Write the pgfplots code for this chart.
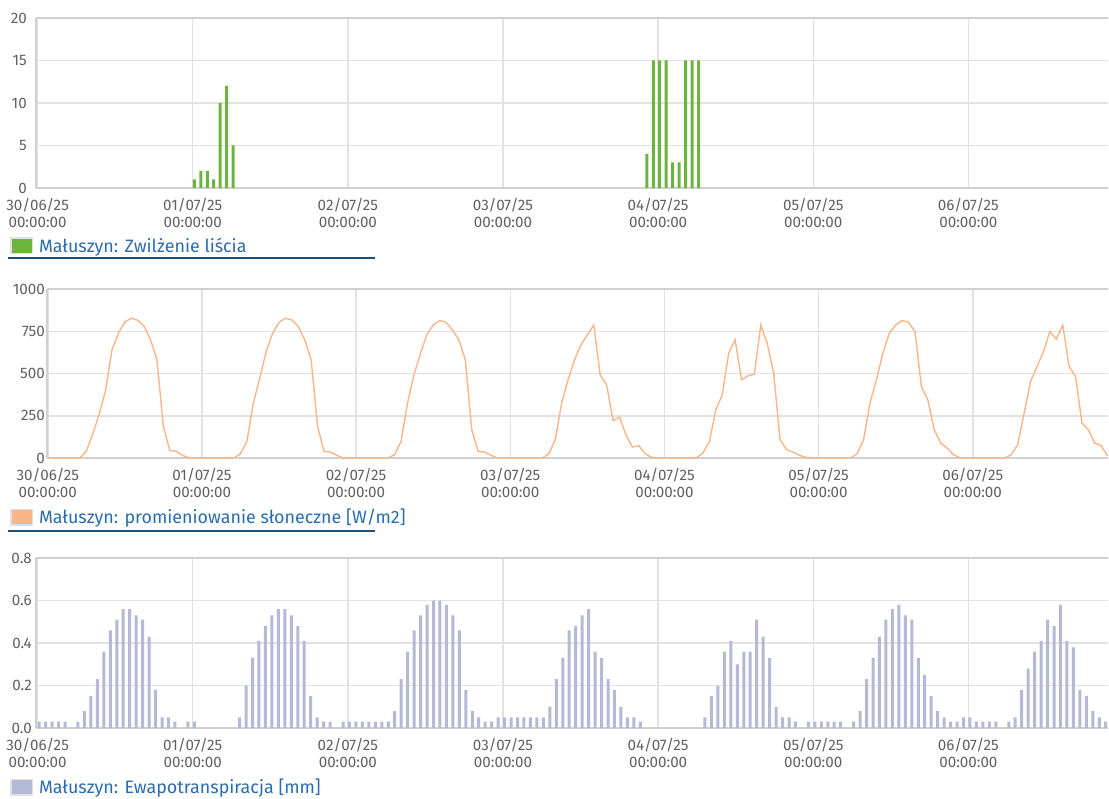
\documentclass[border=0pt]{standalone}
\usepackage{fontspec}
\setmainfont{Fira Sans}
\usepackage{pgfplots}
\usepackage{pgfplotstable}
\pgfplotsset{compat=1.18}

\definecolor{gridc}{HTML}{E2E2E2}
\definecolor{framec}{HTML}{D0D0D0}
\definecolor{tickc}{HTML}{616161}
\definecolor{legc}{HTML}{2A6CB0}
\definecolor{ulc}{HTML}{1F4E79}
\definecolor{wetc}{HTML}{6DB33F}
\definecolor{radc}{HTML}{F9B58A}
\definecolor{etc}{HTML}{B4B9D6}

% leaf wetness, only the non-zero hours
\pgfplotstableread{
h w
24 1
25 2
26 2
27 1
28 10
29 12
30 5
94 4
95 15
96 15
97 15
98 3
99 3
100 15
101 15
102 15
}\wet

% hourly solar radiation and evapotranspiration, h = hours since 30/06 00:00
\pgfplotstableread{
h rad et
0 0 0.03
1 0 0.03
2 0 0.03
3 0 0.03
4 0 0.03
5 0 0
6 40 0.03
7 140 0.08
8 260 0.15
9 400 0.23
10 640 0.36
11 740 0.46
12 805 0.51
13 827 0.56
14 815 0.56
15 780 0.53
16 700 0.51
17 580 0.43
18 185 0.18
19 45 0.05
20 40 0.05
21 15 0.03
22 0 0
23 0 0.03
24 0 0.03
25 0 0
26 0 0
27 0 0
28 0 0
29 0 0
30 25 0
31 98 0.05
32 325 0.20
33 472 0.33
34 630 0.41
35 738 0.48
36 803 0.53
37 827 0.56
38 817 0.56
39 778 0.53
40 700 0.48
41 581 0.41
42 187 0.15
43 39 0.05
44 35 0.03
45 16 0.03
46 0 0
47 0 0.03
48 0 0.03
49 0 0.03
50 0 0.03
51 0 0.03
52 0 0.03
53 0 0.03
54 20 0.03
55 98 0.08
56 325 0.23
57 492 0.36
58 616 0.46
59 728 0.53
60 787 0.58
61 813 0.60
62 803 0.60
63 758 0.58
64 699 0.53
65 581 0.46
66 167 0.18
67 39 0.08
68 35 0.05
69 16 0.03
70 0 0.03
71 0 0.05
72 0 0.05
73 0 0.05
74 0 0.05
75 0 0.05
76 0 0.05
77 0 0.05
78 25 0.05
79 108 0.10
80 325 0.23
81 463 0.33
82 581 0.46
83 669 0.48
84 728 0.53
85 787 0.56
86 492 0.36
87 433 0.33
88 222 0.23
89 242 0.18
90 138 0.10
91 65 0.05
92 73 0.05
93 25 0.03
94 4 0
95 0 0
96 0 0
97 0 0
98 0 0
99 0 0
100 0 0
101 0 0
102 30 0
103 98 0.05
104 285 0.15
105 374 0.20
106 620 0.36
107 699 0.41
108 463 0.30
109 486 0.36
110 496 0.36
111 787 0.51
112 679 0.43
113 502 0.33
114 108 0.10
115 49 0.05
116 35 0.05
117 16 0.03
118 4 0
119 0 0.03
120 0 0.03
121 0 0.03
122 0 0.03
123 0 0.03
124 0 0.03
125 0 0
126 25 0.03
127 108 0.08
128 325 0.23
129 463 0.33
130 620 0.43
131 738 0.51
132 787 0.56
133 813 0.58
134 803 0.53
135 748 0.51
136 423 0.33
137 344 0.25
138 167 0.15
139 89 0.08
140 59 0.05
141 20 0.03
142 0 0.03
143 0 0.05
144 0 0.05
145 0 0.03
146 0 0.03
147 0 0.03
148 0 0.03
149 0 0
150 20 0.03
151 79 0.05
152 266 0.18
153 453 0.28
154 541 0.36
155 630 0.41
156 748 0.51
157 703 0.48
158 787 0.58
159 541 0.41
160 482 0.38
161 207 0.18
162 167 0.15
163 89 0.08
164 73 0.05
165 10 0.03
}\hourly

\pgfplotsset{
  panel/.style={
    scale only axis,
    axis x line=box, axis y line=left,
    axis line style={draw=framec, line width=2.5pt, -},
    xtick={0,24,48,72,96,120,144},
    xticklabels={{30/06/25\\00:00:00},{01/07/25\\00:00:00},{02/07/25\\00:00:00},
      {03/07/25\\00:00:00},{04/07/25\\00:00:00},{05/07/25\\00:00:00},{06/07/25\\00:00:00}},
    grid=major,
    major grid style={draw=gridc, line width=1.5pt},
    major tick length=0pt,
    tick label style={color=tickc, font=\fontsize{15.2}{17}\selectfont},
    xticklabel style={align=center, anchor=north, inner sep=0pt, yshift=-10pt},
    yticklabel style={anchor=east, inner sep=0pt},
    /pgf/number format/assume math mode=true,
    /pgf/number format/1000 sep={},
    legend style={at={(0,0)}, anchor=west, draw=none, fill=none,
      inner sep=0pt, outer sep=0pt,
      font=\fontsize{17.9}{20}\selectfont, text=legc,
      /tikz/every odd column/.append style={column sep=4pt}},
    legend cell align=left,
  },
}

\begin{document}
\begin{tikzpicture}
\path[use as bounding box] (0,0) rectangle (1109pt,-799pt);

% leaf wetness
\begin{axis}[panel,
  at={(36pt,-188pt)}, anchor=south west,
  width=1072pt, height=170pt,
  xmin=-0.25, xmax=165.6, ymin=0, ymax=20,
  ytick={0,5,10,15,20},
  yticklabel style={xshift=-9pt},
  legend style={xshift=-26pt, yshift=-58pt},
  ybar, bar width=3pt]
\addplot[fill=wetc, draw=none, bar shift=1.6pt,
  legend image code/.code={
    \fill[wetc] (1.5pt,-7pt) rectangle (21.5pt,7pt);
    \draw[draw=black!12, line width=1.5pt] (0.75pt,-7.75pt) rectangle (22.25pt,7.75pt);}]
  table[x=h, y=w] {\wet};
\addlegendentry{Małuszyn: Zwilżenie liścia}
\end{axis}
\draw[ulc, line width=1.5pt] (8pt,-258pt) -- (375pt,-258pt);

% solar radiation
\begin{axis}[panel,
  at={(47pt,-458pt)}, anchor=south west,
  width=1061pt, height=169pt,
  xmin=-0.12, xmax=165.05, ymin=0, ymax=1000,
  ytick={0,250,500,750,1000},
  yticklabel style={xshift=-2pt},
  legend style={xshift=-37pt, yshift=-59pt}]
\addplot[radc, line width=1.4pt,
  legend image code/.code={
    \fill[radc] (1.5pt,-7pt) rectangle (21.5pt,7pt);
    \draw[draw=black!12, line width=1.5pt] (0.75pt,-7.75pt) rectangle (22.25pt,7.75pt);}]
  table[x=h, y=rad] {\hourly};
\addlegendentry{Małuszyn: promieniowanie słoneczne [W/m2]}
\end{axis}
\draw[ulc, line width=1.5pt] (8pt,-531pt) -- (375pt,-531pt);

% evapotranspiration
\begin{axis}[panel,
  at={(36pt,-728pt)}, anchor=south west,
  width=1072pt, height=170pt,
  xmin=-0.25, xmax=165.6, ymin=0, ymax=0.8,
  ytick={0,0.2,0.4,0.6,0.8},
  yticklabel style={xshift=-4pt, /pgf/number format/.cd, fixed, fixed zerofill, precision=1},
  legend style={xshift=-26pt, yshift=-59pt},
  ybar, bar width=3pt]
\addplot[fill=etc, draw=none, bar shift=1.6pt,
  legend image code/.code={
    \fill[etc] (1.5pt,-7pt) rectangle (21.5pt,7pt);
    \draw[draw=black!12, line width=1.5pt] (0.75pt,-7.75pt) rectangle (22.25pt,7.75pt);}]
  table[x=h, y=et] {\hourly};
\addlegendentry{Małuszyn: Ewapotranspiracja [mm]}
\end{axis}
\end{tikzpicture}
\end{document}
